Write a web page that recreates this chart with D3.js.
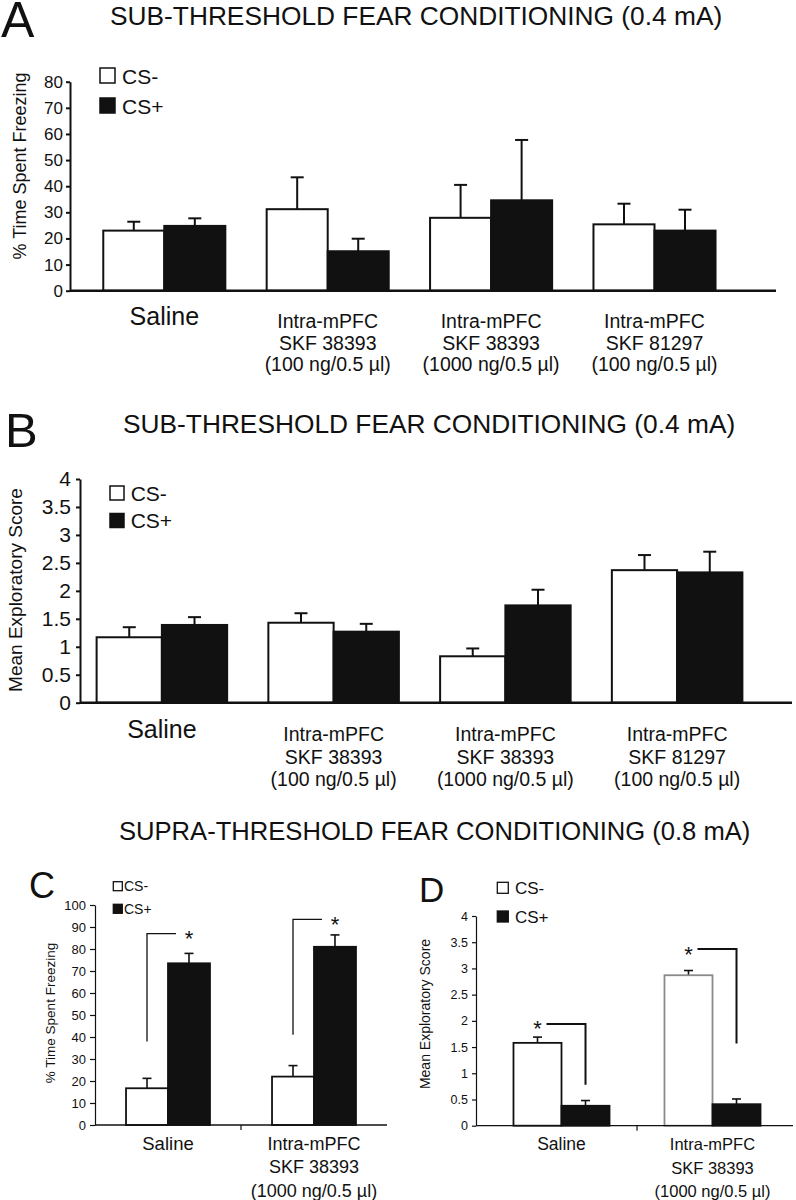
<!DOCTYPE html>
<html>
<head>
<meta charset="utf-8">
<script src="https://cdn.jsdelivr.net/npm/d3@7"></script>
<style>
  body { margin: 0; background: #fff; }
  svg { display: block; font-family: "Liberation Sans", Arial, Helvetica, sans-serif; }
</style>
</head>
<body>
<div id="chart"></div>
<script>
// categories
const series = ["CS-", "CS+"];
const groupsAB = ["Saline", "SKF38393-100", "SKF38393-1000", "SKF81297-100"];
const labelsAB = [
    ["Saline"],
    ["Intra-mPFC", "SKF 38393", "(100 ng/0.5 µl)"],
    ["Intra-mPFC", "SKF 38393", "(1000 ng/0.5 µl)"],
    ["Intra-mPFC", "SKF 81297", "(100 ng/0.5 µl)"]
];
const groupsCD = ["Saline", "SKF38393-1000"];
const labelsCD = [
    ["Saline"],
    ["Intra-mPFC", "SKF 38393", "(1000 ng/0.5 µl)"]
];

// A: % time freezing, sub-threshold
const freezeSubMinus = [23.0, 31.2, 27.9, 25.4];
const freezeSubMinusErr = [3.4, 12.2, 12.6, 7.9];
const freezeSubPlus = [24.8, 15.1, 34.6, 23.0];
const freezeSubPlusErr = [2.9, 4.8, 23.1, 8.0];

// B: exploratory score, sub-threshold
const exploreSubMinus = [1.17, 1.43, 0.83, 2.37];
const exploreSubMinusErr = [0.18, 0.17, 0.14, 0.27];
const exploreSubPlus = [1.39, 1.27, 1.74, 2.33];
const exploreSubPlusErr = [0.14, 0.14, 0.28, 0.37];

// C: % time freezing, supra-threshold
const freezeSupraMinus = [16.7, 22.0];
const freezeSupraMinusErr = [4.5, 5.0];
const freezeSupraPlus = [73.5, 81.0];
const freezeSupraPlusErr = [4.5, 5.4];
const bracketLowC = [38, 41];
const bracketHighC = [87, 93.5];

// D: exploratory score, supra-threshold
const exploreSupraMinus = [1.58, 2.87];
const exploreSupraMinusErr = [0.11, 0.09];
const exploreSupraPlus = [0.38, 0.41];
const exploreSupraPlusErr = [0.10, 0.10];
const bracketLowD = [0.78, 1.57];
const bracketHighD = [1.94, 3.37];

// tick labels
const ticksA = [0, 10, 20, 30, 40, 50, 60, 70, 80];
const ticksB = [0, 0.5, 1, 1.5, 2, 2.5, 3, 3.5, 4];
const ticksC = [0, 10, 20, 30, 40, 50, 60, 70, 80, 90, 100];
const ticksD = [0, 0.5, 1, 1.5, 2, 2.5, 3, 3.5, 4];

const titleSub = "SUB-THRESHOLD FEAR CONDITIONING (0.4 mA)";
const titleSupra = "SUPRA-THRESHOLD FEAR CONDITIONING (0.8 mA)";

const BLACK = "#111";

const svg = d3.select("#chart").append("svg")
    .attr("width", 796)
    .attr("height", 1200);

svg.append("rect").attr("width", 796).attr("height", 1200).attr("fill", "#fff");

// panel letters + titles
function bigText(txt, x, y, size) {
    svg.append("text").attr("x", x).attr("y", y)
        .attr("font-size", size).attr("fill", BLACK).text(txt);
}
bigText("A", 1, 36.7, 50);
bigText("B", 5, 446.7, 49);
bigText("C", 29, 897.7, 36);
bigText("D", 419, 901.7, 35);
bigText(titleSub, 110, 25, 26.3);
bigText(titleSub, 123, 432.7, 26.3);
bigText(titleSupra, 119, 840, 25.6);

function panel(cfg) {
    const g = svg.append("g");

    // scales
    const x0 = d3.scaleBand()
        .domain(cfg.groups)
        .range(cfg.xRange)
        .paddingInner(cfg.padIn)
        .paddingOuter(cfg.padIn / 2);
    const x1 = d3.scaleBand().domain(series).range([0, x0.bandwidth()]);
    const y = d3.scaleLinear()
        .domain([cfg.ticks[0], cfg.ticks[cfg.ticks.length - 1]])
        .range(cfg.yRange);

    // y axis
    const ya = g.append("g")
        .attr("transform", `translate(${cfg.axisX},0)`)
        .call(d3.axisLeft(y).tickValues(cfg.ticks).tickSize(cfg.tickSize)
            .tickSizeOuter(0).tickPadding(cfg.tickPad).tickFormat(d => String(d)));
    ya.selectAll("path, line").attr("stroke", BLACK).attr("stroke-width", cfg.axisW);
    ya.selectAll("text").attr("font-size", cfg.tickFont).attr("fill", BLACK)
        .attr("font-family", "Liberation Sans, Arial, sans-serif");

    // y label
    g.append("text")
        .attr("transform", `translate(${cfg.yLabel.x},${cfg.yLabel.y}) rotate(-90)`)
        .attr("text-anchor", "middle")
        .attr("dy", "0.35em")
        .attr("font-size", cfg.yLabel.font)
        .attr("fill", BLACK)
        .text(cfg.yLabel.text);

    // rows
    const rows = cfg.groups.map((grp, i) => [
        {g: grp, i: i, s: "CS-", v: cfg.minus[i], e: cfg.minusErr[i]},
        {g: grp, i: i, s: "CS+", v: cfg.plus[i], e: cfg.plusErr[i]}
    ]).flat();
    const cx = d => x0(d.g) + x1(d.s) + x1.bandwidth() / 2;

    // error bars (upper only)
    const err = g.append("g").attr("stroke", BLACK).attr("stroke-width", cfg.errW);
    err.selectAll(".stem").data(rows).join("line")
        .attr("x1", cx).attr("x2", cx)
        .attr("y1", d => y(d.v)).attr("y2", d => y(d.v + d.e));
    err.selectAll(".cap").data(rows).join("line")
        .attr("x1", d => cx(d) - cfg.capW / 2).attr("x2", d => cx(d) + cfg.capW / 2)
        .attr("y1", d => y(d.v + d.e)).attr("y2", d => y(d.v + d.e));

    // bars
    g.append("g").selectAll("rect").data(rows).join("rect")
        .attr("x", d => x0(d.g) + x1(d.s))
        .attr("y", d => y(d.v))
        .attr("width", x1.bandwidth())
        .attr("height", d => y(0) - y(d.v))
        .attr("fill", d => d.s === "CS-" ? "#fff" : BLACK)
        .attr("stroke", d => (cfg.faint && d.s === "CS-" && d.i === cfg.faint) ? "#8a8a8a" : BLACK)
        .attr("stroke-width", cfg.barW);

    // x axis baseline
    g.append("line")
        .attr("x1", cfg.axisX).attr("x2", cfg.axisEnd)
        .attr("y1", y(0)).attr("y2", y(0))
        .attr("stroke", BLACK).attr("stroke-width", cfg.baseW);
    if (cfg.catTicks) {
        for (let i = 1; i < cfg.groups.length; i++) {
            const bx = x0.range()[0] + i * x0.step();
            g.append("line").attr("x1", bx).attr("x2", bx)
                .attr("y1", y(0)).attr("y2", y(0) + 5)
                .attr("stroke", BLACK).attr("stroke-width", 1.2);
        }
    }

    // category labels
    cfg.groups.forEach((grp, i) => {
        const lines = cfg.labels[i];
        const t = g.append("text")
            .attr("text-anchor", "middle")
            .attr("fill", BLACK);
        if (lines.length === 1) {
            t.attr("x", x0(grp) + x0.bandwidth() / 2).attr("y", cfg.salineY)
                .attr("font-size", cfg.salineFont).text(lines[0]);
        } else {
            t.attr("font-size", cfg.labelFont);
            lines.forEach((ln, k) => {
                t.append("tspan")
                    .attr("x", x0(grp) + x0.bandwidth() / 2)
                    .attr("y", cfg.labelY + k * cfg.lineH)
                    .text(ln);
            });
        }
    });

    // legend
    const lg = cfg.legend;
    series.forEach((s, k) => {
        const ly = lg.y + k * lg.gap;
        g.append("rect")
            .attr("x", lg.x).attr("y", ly)
            .attr("width", lg.box).attr("height", lg.box)
            .attr("fill", s === "CS-" ? "#fff" : BLACK)
            .attr("stroke", BLACK).attr("stroke-width", lg.stroke);
        g.append("text")
            .attr("x", lg.textX).attr("y", ly + lg.box + 0.5)
            .attr("font-size", lg.font).attr("fill", BLACK)
            .text(s);
    });

    return {g, x0, x1, y};
}

// A
panel({
    groups: groupsAB, labels: labelsAB,
    minus: freezeSubMinus, minusErr: freezeSubMinusErr,
    plus: freezeSubPlus, plusErr: freezeSubPlusErr,
    xRange: [82.6, 736.2], padIn: 0.253,
    yRange: [290.7, 81.7], ticks: ticksA,
    axisX: 70, axisEnd: 776, tickSize: 4, tickPad: 3, tickFont: 17, axisW: 2,
    barW: 2, errW: 2, capW: 13, baseW: 2.5,
    yLabel: {text: "% Time Spent Freezing", x: 20, y: 166, font: 18},
    legend: {x: 100, y: 68, box: 15, textX: 122, font: 21, gap: 30, stroke: 1.5},
    salineY: 325, salineFont: 25, labelY: 328, labelFont: 19.5, lineH: 21.7
});

// B
panel({
    groups: groupsAB, labels: labelsAB,
    minus: exploreSubMinus, minusErr: exploreSubMinusErr,
    plus: exploreSubPlus, plusErr: exploreSubPlusErr,
    xRange: [76, 763], padIn: 0.24,
    yRange: [702.7, 479], ticks: ticksB,
    axisX: 80, axisEnd: 792, tickSize: 4, tickPad: 5, tickFont: 21, axisW: 2,
    barW: 2, errW: 2, capW: 13, baseW: 2.5,
    yLabel: {text: "Mean Exploratory Score", x: 15, y: 590, font: 19},
    legend: {x: 110, y: 486, box: 14, textX: 130.7, font: 21, gap: 27.5, stroke: 1.5},
    salineY: 738, salineFont: 25, labelY: 741, labelFont: 19.5, lineH: 22.5
});

// C
const pc = panel({
    groups: groupsCD, labels: labelsCD,
    minus: freezeSupraMinus, minusErr: freezeSupraMinusErr,
    plus: freezeSupraPlus, plusErr: freezeSupraPlusErr,
    xRange: [95, 387], padIn: 0.425,
    yRange: [1125, 905], ticks: ticksC,
    axisX: 95, axisEnd: 387, tickSize: 5, tickPad: 4, tickFont: 13, axisW: 1.2,
    barW: 1.8, errW: 1.6, capW: 9, baseW: 1.3, catTicks: true,
    yLabel: {text: "% Time Spent Freezing", x: 50, y: 1013, font: 13.5},
    legend: {x: 113.3, y: 881.7, box: 9, textX: 124, font: 14, gap: 22.6, stroke: 1.3},
    salineY: 1150, salineFont: 18.5, labelY: 1150, labelFont: 18, lineH: 23.3
});

// D
const pd = panel({
    groups: groupsCD, labels: labelsCD,
    minus: exploreSupraMinus, minusErr: exploreSupraMinusErr,
    plus: exploreSupraPlus, plusErr: exploreSupraPlusErr,
    xRange: [486, 788], padIn: 0.364,
    yRange: [1125.7, 916], ticks: ticksD,
    axisX: 476, axisEnd: 793, tickSize: 4, tickPad: 4, tickFont: 12.5, axisW: 1.2,
    barW: 1.8, errW: 1.6, capW: 9, baseW: 1.3, catTicks: true, faint: 1,
    yLabel: {text: "Mean Exploratory Score", x: 425, y: 1014, font: 14},
    legend: {x: 497.3, y: 882.3, box: 11, textX: 515, font: 17, gap: 28.7, stroke: 1.3},
    salineY: 1150, salineFont: 17.5, labelY: 1150, labelFont: 16.5, lineH: 23.5
});

// significance brackets
function star(g, x, yy) {
    g.append("text").attr("x", x).attr("y", yy + 12.5)
        .attr("text-anchor", "middle").attr("font-size", 22).attr("fill", BLACK).text("*");
}
function centre(p, grp, s) {
    return p.x0(grp) + p.x1(s) + p.x1.bandwidth() / 2;
}
groupsCD.forEach((grp, i) => {
    // C: from CS- bar up, across toward the CS+ star
    const a = centre(pc, grp, "CS-"), b = centre(pc, grp, "CS+");
    pc.g.append("path")
        .attr("d", `M${a},${pc.y(bracketLowC[i])}V${pc.y(bracketHighC[i])}H${b - 13}`)
        .attr("fill", "none").attr("stroke", BLACK).attr("stroke-width", 1.3);
    star(pc.g, b, pc.y(bracketHighC[i]));

    // D: star over CS-, line across and down to CS+
    const c = centre(pd, grp, "CS-"), e = centre(pd, grp, "CS+");
    pd.g.append("path")
        .attr("d", `M${c + 9},${pd.y(bracketHighD[i])}H${e}V${pd.y(bracketLowD[i])}`)
        .attr("fill", "none").attr("stroke", BLACK).attr("stroke-width", 2);
    star(pd.g, c, pd.y(bracketHighD[i]));
});
</script>
</body>
</html>
